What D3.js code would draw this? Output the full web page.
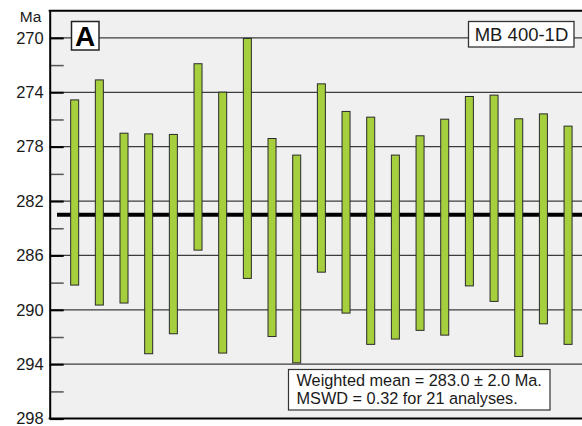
<!DOCTYPE html>
<html><head><meta charset="utf-8">
<script src="https://cdn.jsdelivr.net/npm/d3@7"></script>
<style>html,body{margin:0;padding:0;background:#fff;} svg{display:block;font-family:"Liberation Sans",Arial,sans-serif;}</style>
</head><body><svg id="c" width="582" height="426"></svg>
<script>
// ---- data ----
const spots = [1,2,3,4,5,6,7,8,9,10,11,12,13,14,15,16,17,18,19,20,21];
const youngAge = [274.56, 273.09, 277.01, 277.06, 277.1, 271.9, 273.99, 270.04, 277.4, 278.62, 273.38, 275.41, 275.83, 278.62, 277.2, 275.98, 274.31, 274.21, 275.95, 275.59, 276.49];
const oldAge   = [288.18, 289.65, 289.5, 293.23, 291.76, 285.61, 293.18, 287.69, 291.96, 293.9, 287.23, 290.24, 292.54, 292.15, 291.51, 291.86, 288.24, 289.38, 293.43, 291.03, 292.54];
const majorTicks = [270, 274, 278, 282, 286, 290, 294, 298];
const minorTicks = [272, 276, 280, 284, 288, 292, 296];
const weightedMean = 283.0;
const axisUnit = "Ma";
const panelLabel = "A";
const sampleName = "MB 400-1D";
const statsLines = ["Weighted mean = 283.0 \u00b1 2.0 Ma.", "MSWD = 0.32 for 21 analyses."];

// ---- chart ----
const svg = d3.select("#c");
const L = 49.7, R = 582, T = 10.7, B = 418.6;
const y = d3.scaleLinear().domain([268, 298]).range([T, B]);
const x = d3.scaleLinear().domain([0, 22]).range([50, 50 + 24.67 * 22]);

svg.append("defs").append("clipPath").attr("id", "clip")
  .append("rect").attr("x", L).attr("y", T).attr("width", R - L).attr("height", B - T);

svg.append("rect").attr("x", L).attr("y", T).attr("width", R - L).attr("height", B - T).attr("fill", "#f0f0f0");

const plot = svg.append("g").attr("clip-path", "url(#clip)");

// gridlines
plot.selectAll("line.grid").data(majorTicks.filter(d => d < 298)).join("line")
  .attr("class", "grid")
  .attr("x1", L).attr("x2", R)
  .attr("y1", d => y(d)).attr("y2", d => y(d))
  .attr("stroke", "#3c3c3c").attr("stroke-width", 1.3);

// weighted mean line
plot.append("line")
  .attr("x1", 57).attr("x2", R)
  .attr("y1", y(weightedMean)).attr("y2", y(weightedMean))
  .attr("stroke", "#000").attr("stroke-width", 4);

// bars
plot.selectAll("rect.bar").data(spots).join("rect")
  .attr("class", "bar")
  .attr("x", (d) => x(d) - 4)
  .attr("width", 8)
  .attr("y", (d, i) => y(youngAge[i]))
  .attr("height", (d, i) => y(oldAge[i]) - y(youngAge[i]))
  .attr("fill", "#a6cf3e")
  .attr("stroke", "#2a2a2a").attr("stroke-width", 1);

// minor ticks
const minorAxis = svg.append("g").attr("transform", `translate(${L},0)`)
  .call(d3.axisLeft(y).tickValues(minorTicks).tickSize(-14).tickSizeOuter(0).tickFormat(""));
minorAxis.select(".domain").remove();
minorAxis.selectAll(".tick line").attr("stroke", "#555").attr("stroke-width", 1.5);

// major axis
const axis = svg.append("g").attr("transform", `translate(${L},0)`)
  .call(d3.axisLeft(y).tickValues(majorTicks).tickSize(-14).tickSizeOuter(0).tickPadding(6).tickFormat(d3.format("d")));
axis.select(".domain").attr("stroke", "#000").attr("stroke-width", 2);
axis.selectAll(".tick line").attr("stroke", "#000").attr("stroke-width", 2);
axis.selectAll(".tick text").attr("font-size", "16.5px").attr("fill", "#1a1a1a")
  .attr("font-family", "'Liberation Sans', Arial, sans-serif");

// top & bottom borders
svg.append("line").attr("x1", L - 1).attr("x2", R).attr("y1", T).attr("y2", T).attr("stroke", "#000").attr("stroke-width", 2);
svg.append("line").attr("x1", L - 1).attr("x2", R).attr("y1", B).attr("y2", B).attr("stroke", "#000").attr("stroke-width", 2);

// unit label
svg.append("text").attr("x", 30.5).attr("y", 21.5).attr("text-anchor", "middle")
  .attr("font-size", "15.5px").attr("fill", "#1a1a1a").text(axisUnit);

// panel label
svg.append("rect").attr("x", 71.5).attr("y", 21.5).attr("width", 27.5).attr("height", 28.5)
  .attr("fill", "#fff").attr("stroke", "#222").attr("stroke-width", 1.5);
svg.append("text").attr("x", 85).attr("y", 45.8).attr("text-anchor", "middle")
  .attr("font-size", "28px").attr("font-weight", "bold").attr("fill", "#000").text(panelLabel);

// sample label
svg.append("rect").attr("x", 468.5).attr("y", 21.5).attr("width", 105.5).attr("height", 25.5)
  .attr("fill", "#fff").attr("stroke", "#333").attr("stroke-width", 1.3);
svg.append("text").attr("x", 521.5).attr("y", 40.8).attr("text-anchor", "middle")
  .attr("font-size", "18.5px").attr("fill", "#1a1a1a").text(sampleName);

// stats box
svg.append("rect").attr("x", 288.5).attr("y", 369.5).attr("width", 261.5).attr("height", 40.5)
  .attr("fill", "#fff").attr("stroke", "#333").attr("stroke-width", 1.2);
svg.selectAll("text.stat").data(statsLines).join("text")
  .attr("class", "stat")
  .attr("x", 296.5).attr("y", (d, i) => 385.7 + i * 18)
  .attr("font-size", "16.3px").attr("fill", "#1a1a1a").text(d => d);
</script></body></html>
